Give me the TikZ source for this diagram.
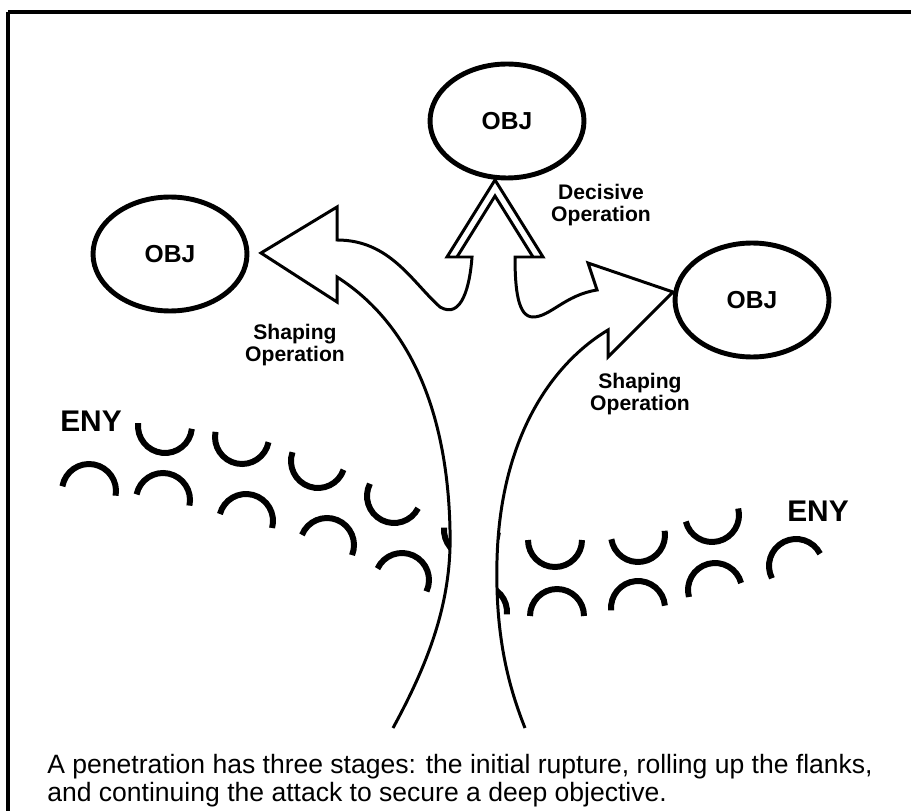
\documentclass[tikz,border=0pt]{standalone}
\usepackage{fontspec}
\setmainfont{Liberation Sans}
\usepackage{tikz}
\usetikzlibrary{positioning,shapes.geometric}
\tikzset{
  objnode/.style={ellipse, draw, line width=2.8pt, minimum width=3.08cm, minimum height=2.28cm, inner sep=0pt,
                  font=\fontsize{14}{14}\selectfont\bfseries},
  oplabel/.style={align=center, inner sep=0pt, font=\fontsize{12}{12.3}\selectfont\bfseries},
  enylabel/.style={inner sep=0pt, font=\fontsize{17}{17}\selectfont\bfseries},
  enyarc/.style={line width=3.4pt},
  thrust/.style={draw, fill=white, line width=1.7pt},
  captiontext/.style={align=left, anchor=north west, inner sep=0pt, font=\fontsize{15.1}{16}\selectfont},
}

\begin{document}
\begin{tikzpicture}[x=0.02cm, y=-0.02cm]
  \useasboundingbox (0,0) rectangle (911,810);
  \clip (0,0) rectangle (911,810);
  \draw[line width=1.8pt] (8,12) -- (1000,12) (8,12) -- (8,900);

  % objectives
  \node[objnode] (objtop) at (507,121) {OBJ};
  \node[objnode] (objleft) at (170,254) {OBJ};
  \node[objnode] (objright) at (752,300) {OBJ};

  % enemy line, upper row then lower row
  \foreach \cx/\cy/\t in {165/426/6, 242/437/11, 318/461/19, 394/496/27, 471/530/5,
                          555/540/0, 638/535/-9, 712/515/-14}
    \draw[enyarc] (\cx,\cy) ++(\t:27) arc[start angle=\t, end angle=\t+180, radius=27];
  \foreach \cx/\cy/\t in {89/491/10, 163/500/12, 246/521/15, 327/545/22, 402/580/25, 480/612/5,
                          557/616/0, 638/608/-5, 715/590/-15, 796/566/-27}
    \draw[enyarc] (\cx,\cy) ++({\t+180}:27) arc[start angle=\t+180, end angle=\t+360, radius=27];

  % penetration
  \draw[thrust] (393,728) .. controls (430,660) and (452,600) .. (450,530)
    .. controls (448,430) and (420,330) .. (337,277)
    -- (337,302) -- (261,253) -- (337,207) -- (337,240)
    .. controls (390,240) and (412,282) .. (440,307)
    .. controls (462,320) and (470,285) .. (472,257)
    -- (447,257) -- (495,180) -- (543,257) -- (515,257)
    .. controls (515,290) and (518,317) .. (533,317)
    .. controls (550,317) and (565,295) .. (597,290)
    -- (588,263) -- (673,292) -- (608,357) -- (608,330)
    .. controls (550,365) and (500,440) .. (497,560)
    .. controls (495,640) and (510,690) .. (525,728);
  \draw[line width=1.7pt] (457,257) -- (495,196) -- (533,257);

  \node[oplabel] (decisive) at (601,205) {Decisive\\Operation};
  \node[oplabel] (shapeleft) at (295,345) {Shaping\\Operation};
  \node[oplabel] (shaperight) at (640,394) {Shaping\\Operation};
  \node[enylabel] (enyleft) at (91,421) {ENY};
  \node[enylabel] (enyright) at (818,511) {ENY};

  \node[captiontext] (caption) at (47,754) {A penetration has three stages: the initial rupture, rolling up the flanks,\\
    and continuing the attack to secure a deep objective.};
\end{tikzpicture}
\end{document}
